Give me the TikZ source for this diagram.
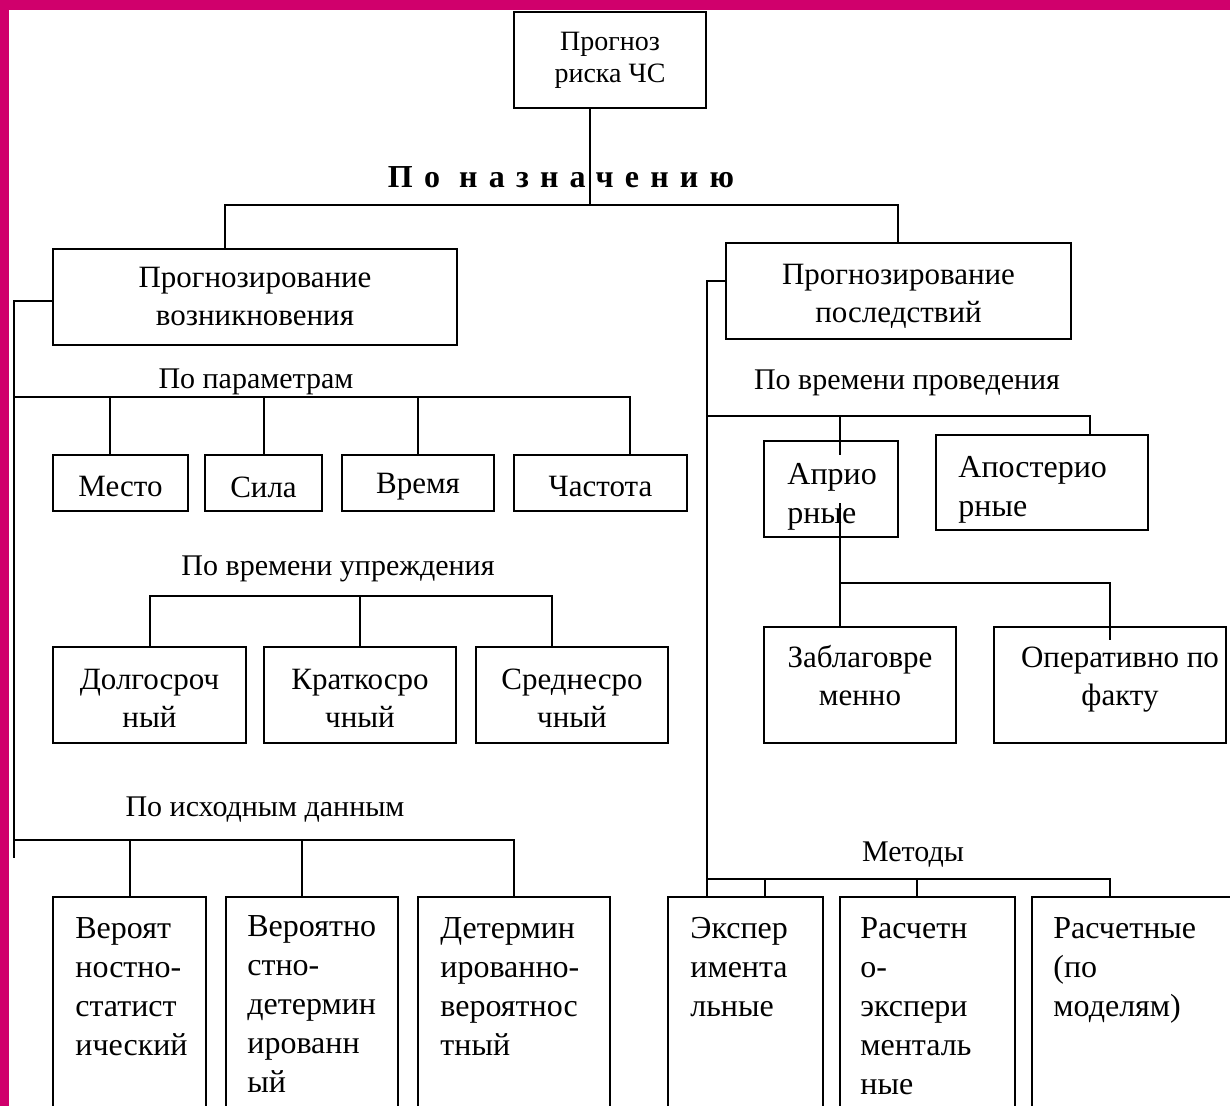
\documentclass[tikz,border=0pt]{standalone}
\usepackage{fontspec}
\setmainfont{Liberation Serif}
\usetikzlibrary{fit}
\definecolor{frame}{RGB}{208,0,108}
\begin{document}
\begin{tikzpicture}[x=0.5pt,y=-0.5pt,
  box/.style={draw,line width=1pt,inner sep=0pt},
  wire/.style={line width=1pt},
  grp/.style={inner sep=0pt,font=\fontsize{15pt}{19pt}\selectfont},
  ctr/.style={inner sep=0pt,align=center,font=\fontsize{15.5pt}{19pt}\selectfont},
  tl/.style={inner sep=0pt,anchor=north west,align=left,font=\fontsize{16pt}{19.5pt}\selectfont}]
\clip (0,0) rectangle (1230,1106);
\fill[white] (0,0) rectangle (1230,1106);
\fill[frame] (0,0) rectangle (1230,10);
\fill[frame] (0,0) rectangle (9,1106);

% top
\node[box,fit={(514,12) (706,108)}] (top) {};
\node[ctr,font=\fontsize{14pt}{16pt}\selectfont] (topt) at (top.center) {Прогноз\\риска ЧС};
\node[inner sep=0pt,font=\bfseries\fontsize{16pt}{19pt}\selectfont\addfontfeature{LetterSpace=35}] (naz) at (561,177) {По назначению};

% main boxes
\node[box,fit={(53,249) (457,345)}] (lb) {};
\node[ctr] (lbt) at (lb.center) {Прогнозирование\\возникновения};
\node[box,fit={(726,243) (1071,339)}] (rb) {};
\node[ctr,yshift=-2.5pt] (rbt) at (rb.center) {Прогнозирование\\последствий};

\coordinate (b0) at (590,205);
\coordinate (bL) at (225,205);
\coordinate (bR) at (898,205);
\draw[wire] (top.south -| b0) -- (b0);
\draw[wire] (bL |- lb.north) -- (bL) -- (bR) -- (bR |- rb.north);

% left trunk
\coordinate (lt0) at (14,301);
\coordinate (lt1) at (14,858);
\draw[wire] (lb.west |- lt0) -- (lt0) -- (lt1);

% by parameters
\node[grp] (gpar) at (256,382) {По параметрам};
\node[box,fit={(53,455) (188,511)}] (mesto) {};
\node[ctr,yshift=-2pt] at (mesto.center) {Место};
\node[box,fit={(205,455) (322,511)}] (sila) {};
\node[ctr,yshift=-2pt] at (sila.center) {Сила};
\node[box,fit={(342,455) (494,511)}] (vrem) {};
\node[ctr,yshift=-2pt] at (vrem.center) {Время};
\node[box,fit={(514,455) (687,511)}] (chast) {};
\node[ctr,yshift=-2pt] at (chast.center) {Частота};
\coordinate (pb0) at (14,397);
\coordinate (p1) at (110,397);
\coordinate (p2) at (264,397);
\coordinate (p3) at (418,397);
\coordinate (p4) at (630,397);
\draw[wire] (pb0) -- (p4) -- (p4 |- chast.north);
\draw[wire] (p1) -- (p1 |- mesto.north);
\draw[wire] (p2) -- (p2 |- sila.north);
\draw[wire] (p3) -- (p3 |- vrem.north);

% by lead time
\node[grp] (gupr) at (338,569) {По времени упреждения};
\node[box,fit={(53,647) (246,743)}] (dolg) {};
\node[ctr,yshift=-1.5pt] at (dolg.center) {Долгосроч\\ный};
\node[box,fit={(264,647) (456,743)}] (krat) {};
\node[ctr,yshift=-1.5pt] at (krat.center) {Краткосро\\чный};
\node[box,fit={(476,647) (668,743)}] (sred) {};
\node[ctr,yshift=-1.5pt] at (sred.center) {Среднесро\\чный};
\coordinate (u1) at (150,596);
\coordinate (u2) at (360,596);
\coordinate (u3) at (552,596);
\draw[wire] (u1 |- dolg.north) -- (u1) -- (u3) -- (u3 |- sred.north);
\draw[wire] (u2) -- (u2 |- krat.north);

% by source data
\node[grp] (gish) at (265,810) {По исходным данным};
\node[box,fit={(53,897) (206,1140)}] (v1) {};
\node[tl] at (75,917) {Вероят\\ностно-\\статист\\ический};
\node[box,fit={(226,897) (398,1140)}] (v2) {};
\node[tl] at (247,915) {Вероятно\\стно-\\детермин\\ированн\\ый};
\node[box,fit={(418,897) (610,1140)}] (v3) {};
\node[tl] at (440,917) {Детермин\\ированно-\\вероятнос\\тный};
\coordinate (s0) at (14,840);
\coordinate (s1) at (130,840);
\coordinate (s2) at (302,840);
\coordinate (s3) at (514,840);
\draw[wire] (s0) -- (s3) -- (s3 |- v3.north);
\draw[wire] (s1) -- (s1 |- v1.north);
\draw[wire] (s2) -- (s2 |- v2.north);

% right trunk
\coordinate (rt0) at (707,281);
\node[box,fit={(668,897) (823,1140)}] (e1) {};
\node[tl] at (690,917) {Экспер\\имента\\льные};
\node[box,fit={(840,897) (1015,1140)}] (e2) {};
\node[tl] at (860,917) {Расчетн\\о-\\экспери\\менталь\\ные};
\node[box,fit={(1032,897) (1250,1140)}] (e3) {};
\node[tl] at (1053,917) {Расчетные\\(по\\моделям)};
\draw[wire] (rb.west |- rt0) -- (rt0) -- (rt0 |- e1.north);

% by time of conduct
\node[grp] (gprov) at (907,383) {По времени проведения};
\node[box,fit={(764,441) (898,537)}] (apr) {};
\node[tl] at (787,463) {Априо\\рные};
\node[box,fit={(936,435) (1148,530)}] (apost) {};
\node[tl] at (958,456) {Апостерио\\рные};
\coordinate (t0) at (707,416);
\coordinate (t1) at (840,416);
\coordinate (t2) at (1090,416);
\coordinate (t1in) at (840,455);
\coordinate (t1out) at (840,503);
\draw[wire] (t0) -- (t2) -- (t2 |- apost.north);
\draw[wire] (t1) -- (t1in);

\node[box,fit={(764,627) (956,743)}] (zab) {};
\node[ctr,yshift=4.5pt] at (zab.center) {Заблаговре\\менно};
\node[box,fit={(994,627) (1226,743)}] (oper) {};
\node[ctr,yshift=2.5pt,xshift=5pt] at (oper.center) {Оперативно по\\факту};
\coordinate (z1) at (840,583);
\coordinate (z2) at (1110,583);
\coordinate (z2in) at (1110,640);
\draw[wire] (t1out) -- (z1) -- (z1 |- zab.north);
\draw[wire] (z1) -- (z2) -- (z2in);

% methods
\node[grp] (gmet) at (913,855) {Методы};
\coordinate (m0) at (707,879);
\coordinate (m1) at (765,879);
\coordinate (m2) at (917,879);
\coordinate (m3) at (1110,879);
\draw[wire] (m0) -- (m3) -- (m3 |- e3.north);
\draw[wire] (m1) -- (m1 |- e1.north);
\draw[wire] (m2) -- (m2 |- e2.north);
\end{tikzpicture}
\end{document}
